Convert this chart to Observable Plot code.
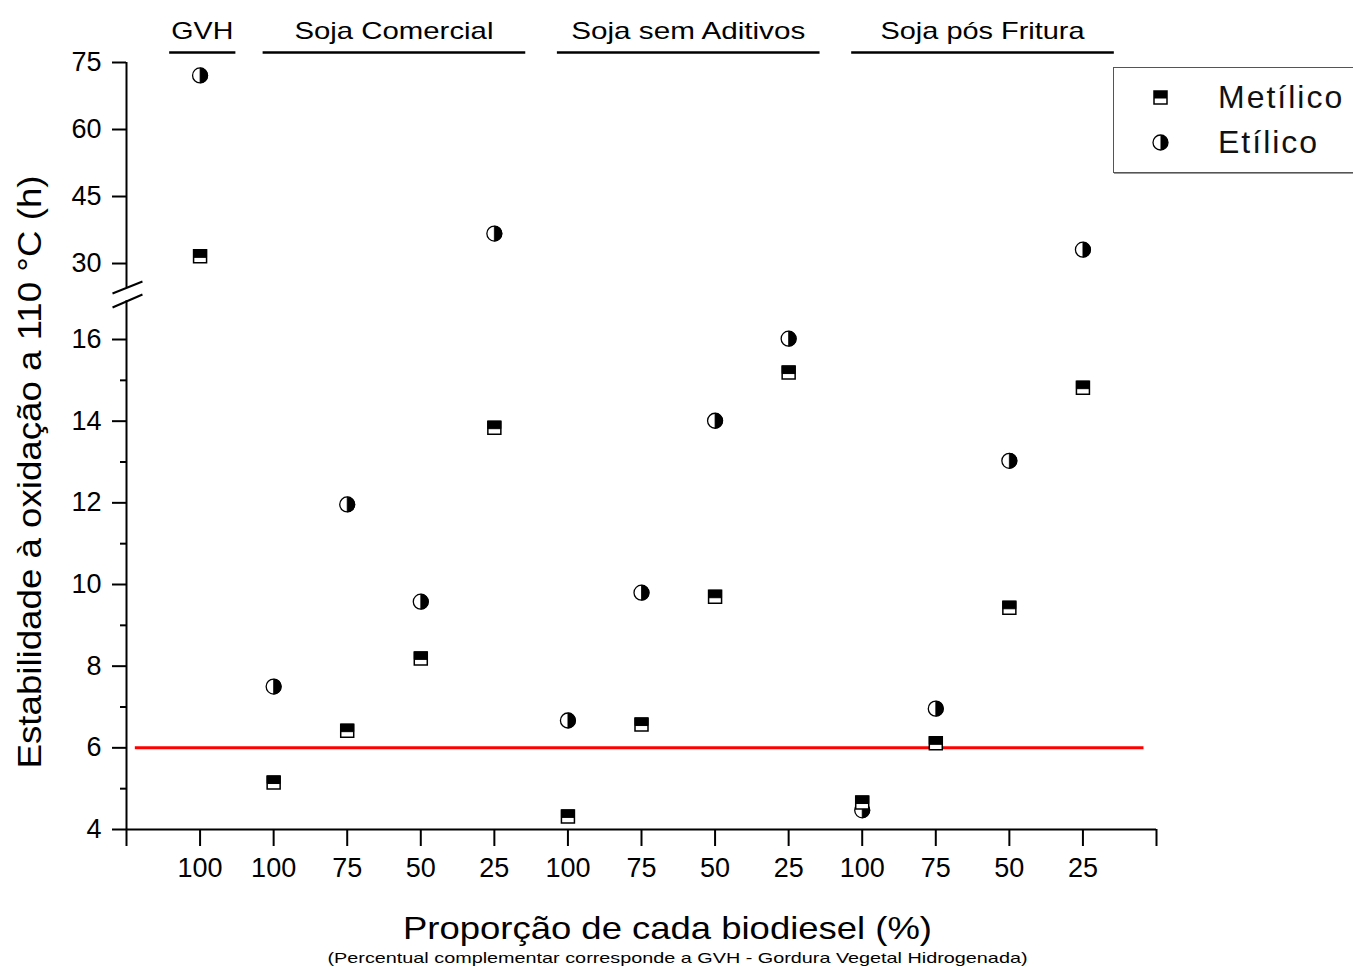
<!DOCTYPE html>
<html><head><meta charset="utf-8">
<script src="https://cdn.jsdelivr.net/npm/d3@7"></script>
<script src="https://cdn.jsdelivr.net/npm/@observablehq/plot@0.6"></script>
<style>
body{margin:0;background:#fff;font-family:"Liberation Sans",Arial,sans-serif;}
#wrap{position:relative;width:1353px;height:967px;overflow:hidden;}
#legend{position:absolute;left:1113px;top:67px;width:270px;height:106px;border:1px solid #555;box-shadow:1px 1px 0 #999;box-sizing:border-box;background:#fff;}
#legend .row{position:absolute;left:0;height:40px;display:flex;align-items:center;}
#legend svg{position:absolute;left:35px;}
#legend span{position:absolute;left:104px;font-size:32px;letter-spacing:2px;color:#111;white-space:nowrap;}
</style></head><body><div id="wrap"></div>
<script>
// ---- data ----
const categories = ["100","100","75","50","25","100","75","50","25","100","75","50","25"];
const groupNames = ["GVH","Soja Comercial","Soja sem Aditivos","Soja pós Fritura"];
const groupFirst = [0,1,5,9];
const groupLast  = [0,4,8,12];
const metilico = [31.6, 5.15, 6.42, 8.19, 13.84, 4.32, 6.57, 9.70, 15.19, 4.66, 6.11, 9.43, 14.82];
const etilico  = [72.1, 7.50, 11.96, 9.58, 36.7, 6.67, 9.80, 14.01, 16.02, 4.47, 6.96, 13.03, 33.1];
const yTicks = [4,6,8,10,12,14,16,30,45,60,75];
const yMinorTicks = [5,7,9,11,13,15];
const limit = 6;
const seriesNames = ["Metílico","Etílico"];

// ---- broken y axis mapping: lower 4–16, upper 30–75 ----
const upperStart = 17.861, upperFactor = 0.1094;
const yMap = v => v <= 16.5 ? v : upperStart + (v - 30) * upperFactor;
const yTop = yMap(75);

const data = categories.map((c, i) => ({i, cat: c, met: metilico[i], et: etilico[i]}));
const groups = groupNames.map((g, k) => {
  const single = groupFirst[k] === groupLast[k];
  const x1 = groupFirst[k] - (single ? 0.42 : 0.15);
  const x2 = groupLast[k] + (single ? 0.48 : 0.42);
  return {name: g, x1, x2, xm: (x1 + x2) / 2};
});

// ---- custom symbols ----
const sqOutline = {draw(ctx, size){const r = Math.sqrt(size/Math.PI); ctx.rect(-r, -r, 2*r, 2*r);}};
const sqTop = {draw(ctx, size){const r = Math.sqrt(size/Math.PI); ctx.rect(-r, -r, 2*r, 1.15*r);}};
const circOutline = {draw(ctx, size){const r = Math.sqrt(size/Math.PI); ctx.moveTo(r,0); ctx.arc(0,0,r,0,2*Math.PI);}};
const circRight = {draw(ctx, size){const r = Math.sqrt(size/Math.PI); ctx.moveTo(0,-r); ctx.arc(0,0,r,-Math.PI/2,Math.PI/2); ctx.closePath();}};

const tickLabel = new Map(yTicks.map(t => [yMap(t), String(t)]));
const font = "'Liberation Sans', Arial, sans-serif";

const chart = Plot.plot({
  width: 1353, height: 967,
  marginLeft: 126, marginRight: 197, marginTop: 62, marginBottom: 138,
  style: {fontFamily: font, background: "white", color: "black", overflow: "visible"},
  x: {domain: [-1, 13], axis: null},
  y: {domain: [4, yTop], axis: null},
  marks: [
    Plot.ruleY([limit], {y: yMap, x1: -0.88, x2: 12.83, stroke: "#f00", strokeWidth: 3}),
    // x axis
    Plot.ruleY([4], {x1: -1, x2: 13, strokeWidth: 2}),
    Plot.axisX({ticks: d3.range(-1, 14), tickSize: 17, tickPadding: 11, strokeWidth: 2,
      tickFormat: i => categories[i] ?? "", fontSize: 27, label: null}),
    // y axis
    Plot.ruleX([{y1: 4, y2: 16.95}, {y1: 17.27, y2: yTop}], {x: () => -1, y1: "y1", y2: "y2", strokeWidth: 2}),
    Plot.axisY({ticks: yTicks.map(yMap), tickSize: 14, tickPadding: 11, strokeWidth: 2,
      tickFormat: v => tickLabel.get(v) ?? "", fontSize: 27, label: null}),
    Plot.axisY({ticks: yMinorTicks, tickSize: 6, strokeWidth: 2, tickFormat: () => "", label: null}),
    // break marks
    Plot.link([{x1: -1.19, y1: 17.127, x2: -0.783, y2: 17.42}, {x1: -1.19, y1: 16.784, x2: -0.783, y2: 17.102}],
      {x1: "x1", y1: "y1", x2: "x2", y2: "y2", strokeWidth: 2}),
    // group headers
    Plot.link(groups, {x1: "x1", x2: "x2", y1: () => yTop, y2: () => yTop, dy: -10, strokeWidth: 2.5}),
    Plot.text(groups, {x: "xm", text: "name", frameAnchor: "top", lineAnchor: "middle", dy: -31, fontSize: 24}),
    // points
    Plot.dot(data, {x: "i", y: d => yMap(d.et), r: 7.5, symbol: circOutline, fill: "white", stroke: "black", strokeWidth: 1.3}),
    Plot.dot(data, {x: "i", y: d => yMap(d.et), r: 7.5, symbol: circRight, fill: "black", stroke: "black", strokeWidth: 0.8}),
    Plot.dot(data, {x: "i", y: d => yMap(d.met), r: 6.5, symbol: sqOutline, fill: "white", stroke: "black", strokeWidth: 1.5}),
    Plot.dot(data, {x: "i", y: d => yMap(d.met), r: 6.5, symbol: sqTop, fill: "black", stroke: "black", strokeWidth: 1}),
    // titles
    Plot.text(["Estabilidade à oxidação a 110 °C (h)"], {frameAnchor: "left", textAnchor: "middle", lineAnchor: "middle", rotate: -90, dx: -96, dy: 26, fontSize: 34}),
    Plot.text(["Proporção de cada biodiesel (%)"], {frameAnchor: "bottom", textAnchor: "middle", lineAnchor: "middle", dx: 26, dy: 99, fontSize: 32}),
    Plot.text(["(Percentual complementar corresponde a GVH - Gordura Vegetal Hidrogenada)"], {frameAnchor: "bottom", textAnchor: "middle", lineAnchor: "middle", dx: 36, dy: 129, fontSize: 15})
  ]
});

const stretch = {
  "GVH": 62, "Soja Comercial": 199, "Soja sem Aditivos": 234, "Soja pós Fritura": 204,
  "Estabilidade à oxidação a 110 °C (h)": 593,
  "Proporção de cada biodiesel (%)": 529,
  "(Percentual complementar corresponde a GVH - Gordura Vegetal Hidrogenada)": 700
};
d3.select(chart).selectAll("text").each(function(){
  const t = this.textContent;
  if (stretch[t]) { this.setAttribute("textLength", stretch[t]); this.setAttribute("lengthAdjust", "spacingAndGlyphs"); }
});

const wrap = document.getElementById("wrap");
wrap.appendChild(chart);

// legend
const legend = document.createElement("div");
legend.id = "legend";
const symbolsFor = [
  `<rect x="5" y="5" width="13" height="13" fill="white" stroke="black" stroke-width="1.5"/><rect x="5" y="5" width="13" height="7.5" fill="black"/>`,
  `<circle cx="11.5" cy="11.5" r="7.5" fill="white" stroke="black" stroke-width="1.3"/><path d="M11.5,4A7.5,7.5 0 0 1 11.5,19Z" fill="black"/>`
];
seriesNames.forEach((name, k) => {
  const row = document.createElement("div");
  row.className = "row";
  row.style.top = (10 + k * 45) + "px";
  row.innerHTML = `<svg width="23" height="23" style="top:8px">${symbolsFor[k]}</svg><span style="top:1px">${name}</span>`;
  legend.appendChild(row);
});
wrap.appendChild(legend);
</script>
</body></html>
